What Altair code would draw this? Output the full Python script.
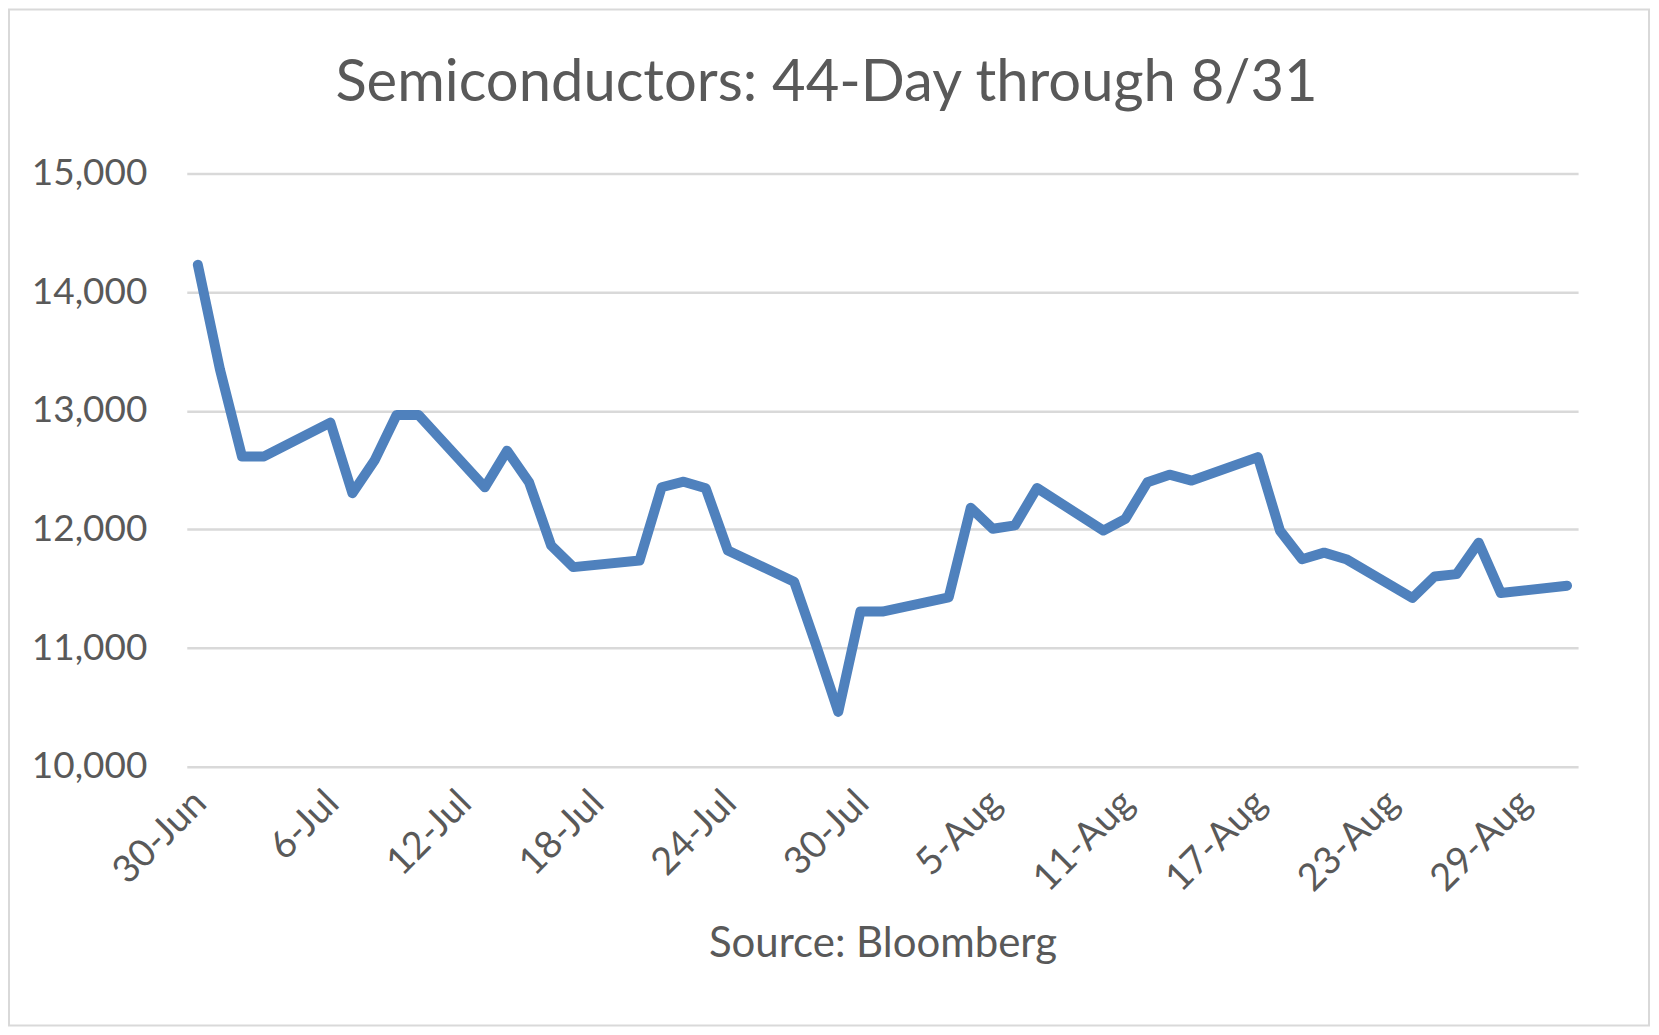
import altair as alt
import pandas as pd

# ---- data ----
dates = [
    "2020-06-30", "2020-07-01", "2020-07-02", "2020-07-03",
    "2020-07-06", "2020-07-07", "2020-07-08", "2020-07-09", "2020-07-10",
    "2020-07-13", "2020-07-14", "2020-07-15", "2020-07-16", "2020-07-17",
    "2020-07-20", "2020-07-21", "2020-07-22", "2020-07-23", "2020-07-24",
    "2020-07-27", "2020-07-28", "2020-07-29", "2020-07-30", "2020-07-31",
    "2020-08-03", "2020-08-04", "2020-08-05", "2020-08-06", "2020-08-07",
    "2020-08-10", "2020-08-11", "2020-08-12", "2020-08-13", "2020-08-14",
    "2020-08-17", "2020-08-18", "2020-08-19", "2020-08-20", "2020-08-21",
    "2020-08-24", "2020-08-25", "2020-08-26", "2020-08-27", "2020-08-28",
    "2020-08-31",
]
values = [
    14230, 13350, 12615, 12615,
    12900, 12305, 12580, 12964, 12964,
    12355, 12663, 12397, 11864, 11682,
    11738, 12355, 12402, 12346, 11822,
    11559, 11022, 10462, 11307, 11307,
    11427, 12182, 12005, 12034, 12349,
    11990, 12089, 12397, 12461, 12411,
    12609, 11990, 11749, 11804, 11749,
    11422, 11603, 11623, 11888, 11464,
    11525,
]
x_tick_dates = ["2020-06-30", "2020-07-06", "2020-07-12", "2020-07-18",
                "2020-07-24", "2020-07-30", "2020-08-05", "2020-08-11",
                "2020-08-17", "2020-08-23", "2020-08-29"]
y_ticks = [10000, 11000, 12000, 13000, 14000, 15000]
x_domain = ["2020-06-29T12:00:00", "2020-08-31T12:00:00"]

title_text = "Semiconductors: 44-Day through 8/31"
source_text = "Source: Bloomberg"

df = pd.DataFrame({"date": dates, "value": values})


def ms(s):
    return int(pd.Timestamp(s, tz="UTC").value // 10**6)


FONT = "Lato"
TEXT = "#595959"
GRID = "#D9D9D9"
LINE = "#4F81BD"

W, H = 1393, 594
PL, PT, PR, PB = 179, 165, 73, 261

line = alt.Chart(df).mark_line(
    color=LINE, strokeWidth=10, strokeCap="round", strokeJoin="round"
).encode(
    x=alt.X(
        "date:T",
        scale=alt.Scale(type="utc", domain=[ms(d) for d in x_domain]),
        axis=alt.Axis(
            values=[ms(d) for d in x_tick_dates],
            format="%-d-%b",
            labelAngle=-45,
            labelAlign="right",
            labelBaseline="top",
            labelPadding=17,
            labelOffset=-11,
            labelFontSize=38,
            labelColor=TEXT,
            labelFont=FONT,
            ticks=False,
            tickSize=0,
            domain=False,
            grid=False,
            title=source_text,
            titleFont=FONT,
            titleFontSize=42,
            titleFontWeight="normal",
            titleColor=TEXT,
            titleBaseline="alphabetic",
            titleY=190,
            labelOverlap=False,
            labelBound=False,
            labelFlush=False,
        ),
    ),
    y=alt.Y(
        "value:Q",
        scale=alt.Scale(domain=[10000, 15000], nice=False, zero=False),
        axis=alt.Axis(
            values=y_ticks,
            format=",.0f",
            labelFontSize=37,
            labelColor=TEXT,
            labelFont=FONT,
            labelPadding=40,
            ticks=False,
            tickSize=0,
            domain=False,
            grid=True,
            gridColor=GRID,
            gridWidth=2.5,
            title=None,
            labelOverlap=False,
        ),
    ),
)

frame = alt.Chart(pd.DataFrame({"f": [0]})).mark_rect(
    fill="transparent", stroke=GRID, strokeWidth=2
).encode(
    x=alt.value(-PL + 1),
    x2=alt.value(W + PR - 2),
    y=alt.value(-PT + 1),
    y2=alt.value(H + PB - 2),
)

chart = alt.layer(frame, line).properties(
    width=W,
    height=H,
    padding={"left": PL, "top": PT, "right": PR, "bottom": PB},
    autosize=alt.AutoSizeParams(type="none"),
    background="white",
    title=alt.TitleParams(
        text=title_text,
        font=FONT,
        fontSize=58,
        fontWeight="normal",
        color=TEXT,
        anchor="middle",
        frame="group",
        dx=-56,
        dy=150,
        baseline="alphabetic",
        offset=0,
    ),
).configure_view(stroke=None)

chart.save("out.html", embed_options={"renderer": "svg", "actions": False})
